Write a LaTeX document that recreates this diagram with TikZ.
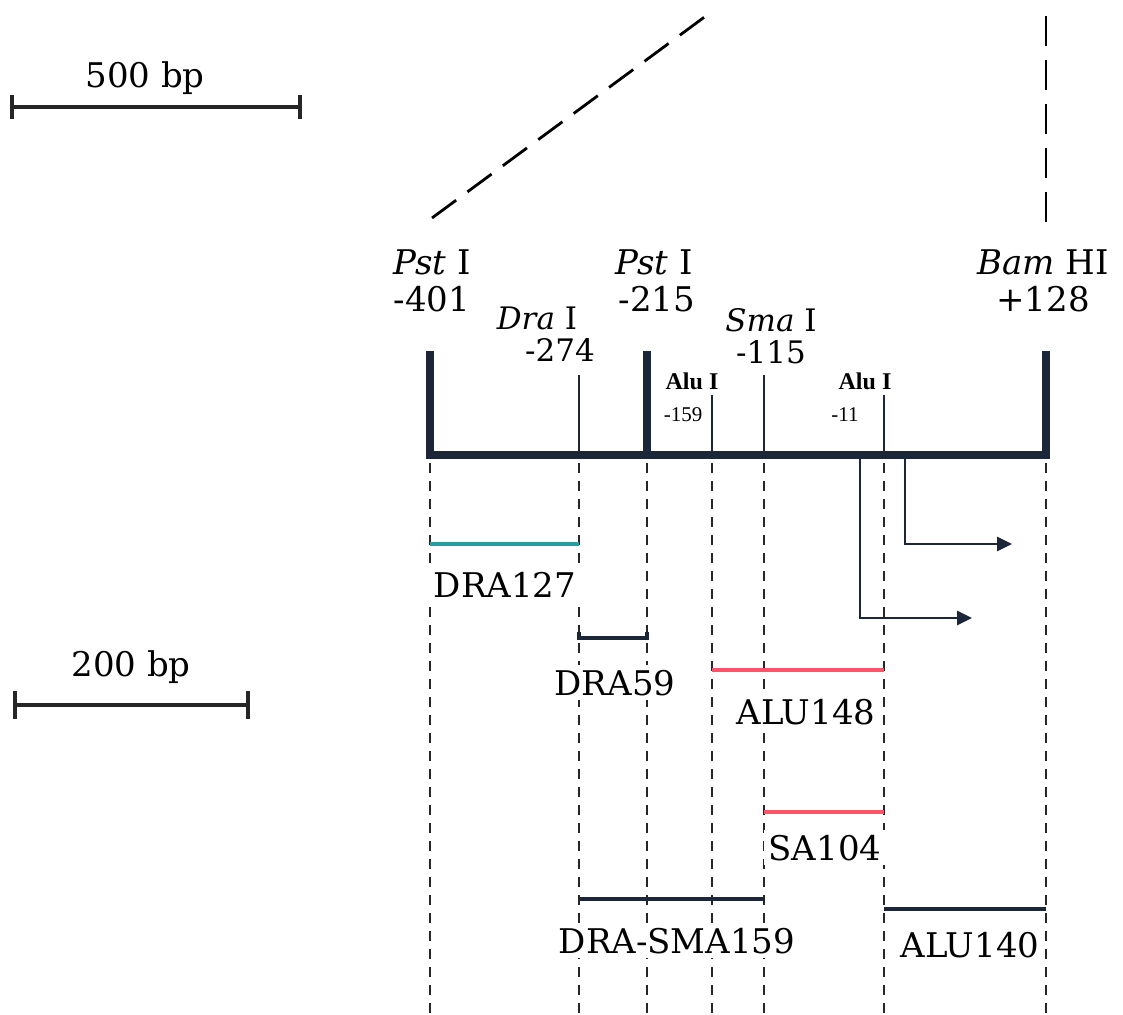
\documentclass[tikz,border=0pt]{standalone}
\usepackage{fontspec}
\setmainfont{DejaVu Serif}
\newfontfamily\alufont{Liberation Serif}
\usetikzlibrary{arrows.meta}
\definecolor{mapnavy}{HTML}{1B2638}
\definecolor{fragteal}{HTML}{2A9CA3}
\definecolor{fragred}{HTML}{FF5468}

\begin{document}
\begin{tikzpicture}[x=0.5pt, y=-0.5pt, >={Triangle[length=7.5pt, width=7pt]},
    site/.style={line width=4pt, mapnavy, line join=miter},
    thinsite/.style={line width=0.8pt, mapnavy},
    guide/.style={dash pattern=on 5pt off 4pt, line width=0.7pt, black!85},
    frag/.style={line width=2pt},
    fraglabel/.style={fill=white, inner sep=2.5pt, anchor=base, font=\fontsize{17}{18}\selectfont},
    big/.style={anchor=base, font=\fontsize{17}{18}\selectfont},
    mid/.style={anchor=base, font=\fontsize{15.5}{17}\selectfont},
    alu/.style={anchor=base, font=\alufont\bfseries\fontsize{12}{13}\selectfont},
    alunum/.style={anchor=base, font=\alufont\fontsize{10.5}{12}\selectfont},
    scalebar/.style={line width=1.6pt, black!85},
    insetline/.style={dash pattern=on 15pt off 7pt, line width=1.4pt},
    tss/.style={->, line width=1.3pt, mapnavy}]
  \useasboundingbox (0,0) rectangle (1123,1015);
  %--- Sites on the map
  \coordinate (pstA)  at (430,455);
  \coordinate (draI)  at (579,455);
  \coordinate (pstB)  at (647,455);
  \coordinate (aluA)  at (712,455);
  \coordinate (smaI)  at (764,455);
  \coordinate (aluB)  at (884,455);
  \coordinate (bamHI) at (1046,455);
  \coordinate (bottom) at (0,1015);
  %--- Inset lines from the larger map
  \coordinate (insetL) at (714,10);
  \coordinate (insetR) at (1046,12);
  \draw[insetline] (432,218) -- (insetL);
  \draw[insetline] (1046,222) -- (insetR);
  %--- Guide lines
  \foreach \s in {pstA,draI,pstB,aluA,smaI,aluB,bamHI}
    \draw[guide] ([yshift=-4pt]\s) -- (\s |- bottom);
  %--- Map
  \draw[site] ([yshift=52pt]pstA) -- (pstA) -- (bamHI) -- ([yshift=52pt]bamHI);
  \draw[site] ([yshift=52pt]pstB) -- (pstB);
  \draw[thinsite] ([yshift=40pt]draI) -- (draI);
  \draw[thinsite] ([yshift=30pt]aluA) -- (aluA);
  \draw[thinsite] ([yshift=40pt]smaI) -- (smaI);
  \draw[thinsite] ([yshift=30pt]aluB) -- (aluB);
  %--- Transcription starts
  \draw[tss] (860,459) -- (860,618) -- (972,618);
  \draw[tss] (905,459) -- (905,544) -- (1012,544);
  %--- Site labels
  \node[big] (pstAname) at (432,275) {\textit{Pst} I};
  \node[big] (pstApos)  at (432,312) {-401};
  \node[big] (pstBname) at (654,275) {\textit{Pst} I};
  \node[big] (pstBpos)  at (657,312) {-215};
  \node[big] (bamname)  at (1043,275) {\textit{Bam} HI};
  \node[big] (bampos)   at (1043,312) {+128};
  \node[mid] (draname)  at (537,330) {\textit{Dra} I};
  \node[mid] (drapos)   at (560,362) {-274};
  \node[mid] (smaname)  at (771,332) {\textit{Sma} I};
  \node[mid] (smapos)   at (771,364) {-115};
  \node[alu] (aluAname) at (692,390) {Alu I};
  \node[alunum] (aluApos) at (683,422) {-159};
  \node[alu] (aluBname) at (865,390) {Alu I};
  \node[alunum] (aluBpos) at (845,422) {-11};
  %--- Fragments
  \draw[frag, fragteal] (pstA |- 0,544) -- (draI |- 0,544);
  \draw[frag, mapnavy] (draI |- 0,632) -- (draI |- 0,638) -- (pstB |- 0,638) -- (pstB |- 0,632);
  \draw[frag, fragred] (aluA |- 0,670) -- (aluB |- 0,670);
  \draw[frag, fragred] (smaI |- 0,812) -- (aluB |- 0,812);
  \draw[frag, mapnavy] (draI |- 0,899) -- (smaI |- 0,899);
  \draw[frag, mapnavy] (aluB |- 0,909) -- (bamHI |- 0,909);
  \node[fraglabel] (dra127) at (505,597) {DRA127};
  \node[fraglabel] (dra59)  at (615,695) {DRA59};
  \node[fraglabel] (alu148) at (806,724) {ALU148};
  \node[fraglabel] (sa104)  at (825,860) {SA104};
  \node[fraglabel] (drasma) at (677,953) {DRA-SMA159};
  \node[fraglabel] (alu140) at (970,957) {ALU140};
  %--- Scale bars
  \coordinate (barA) at (12,107);
  \coordinate (barB) at (300,107);
  \draw[scalebar] (barA) -- (barB);
  \draw[scalebar] ([yshift=6pt]barA) -- ([yshift=-6pt]barA);
  \draw[scalebar] ([yshift=6pt]barB) -- ([yshift=-6pt]barB);
  \node[big] (bp500) at (145,88) {500 bp};
  \coordinate (barC) at (15,705);
  \coordinate (barD) at (248,705);
  \draw[scalebar] (barC) -- (barD);
  \draw[scalebar] ([yshift=7pt]barC) -- ([yshift=-7pt]barC);
  \draw[scalebar] ([yshift=7pt]barD) -- ([yshift=-7pt]barD);
  \node[big] (bp200) at (131,676) {200 bp};
\end{tikzpicture}
\end{document}
